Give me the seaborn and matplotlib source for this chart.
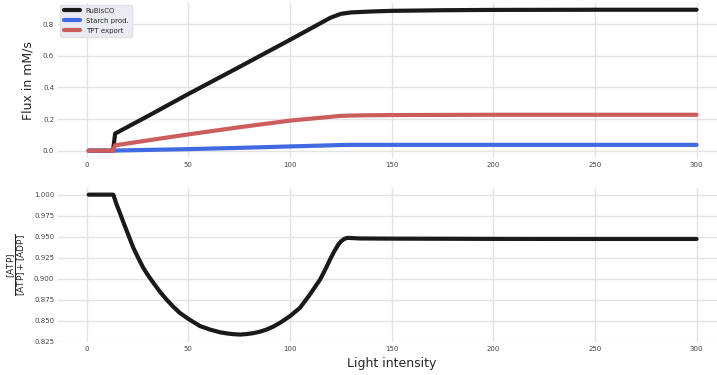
import numpy as np
import pandas as pd
import matplotlib
matplotlib.use("Agg")
import matplotlib.pyplot as plt
import seaborn as sns

# ---- data ----
flux_light = [1, 13, 14, 30, 50, 75, 100, 120, 125, 130, 140, 150, 175, 200, 250, 300]
rubisco = [0.0, 0.0, 0.108, 0.218, 0.358, 0.528, 0.700, 0.840, 0.864, 0.873, 0.879, 0.883, 0.887, 0.889, 0.890, 0.890]
starch = [0.0, 0.0, 0.001, 0.005, 0.010, 0.018, 0.027, 0.034, 0.036, 0.037, 0.037, 0.037, 0.037, 0.037, 0.037, 0.037]
tpt = [0.0, 0.0, 0.034, 0.065, 0.103, 0.148, 0.190, 0.214, 0.220, 0.222, 0.224, 0.225, 0.226, 0.227, 0.227, 0.227]

atp_light = [1, 13.1, 14.7, 16.4, 18.0, 19.7, 21.3, 22.9, 25.3, 27.8, 30.3, 32.8, 36.0, 39.3, 42.6, 45.9, 50,
             55.7, 60.6, 65.6, 68.9, 72.0, 75.4, 78.7, 82, 85.2, 88.5, 91.8, 95.1, 100, 104.9, 109.8, 114.8,
             117.3, 119.7, 121.8, 123.8, 125.0, 126.2, 127.4, 128.7, 134.4, 150, 200, 250, 300]
atp_ratio = [1.0, 1.0, 0.9885, 0.978, 0.9675, 0.957, 0.947, 0.937, 0.925, 0.913, 0.9035, 0.895, 0.8845, 0.875,
             0.8665, 0.859, 0.852, 0.8435, 0.8393, 0.8360, 0.8347, 0.8338, 0.8333, 0.8339, 0.8350, 0.8367,
             0.8393, 0.8428, 0.8473, 0.8552, 0.8651, 0.881, 0.8988, 0.9105, 0.9226, 0.9325, 0.9405, 0.9440,
             0.9464, 0.9480, 0.9485, 0.9478, 0.9476, 0.9473, 0.9472, 0.9472]

series_names = ["RuBisCO", "Starch prod.", "TPT export"]
series_colors = ["#1a1a1a", "#4169e1", "#cd5c5c"]

flux_df = pd.DataFrame({
    "Light intensity": flux_light * 3,
    "Flux": rubisco + starch + tpt,
    "Reaction": [n for n in series_names for _ in flux_light],
})
atp_df = pd.DataFrame({"Light intensity": atp_light, "ratio": atp_ratio})

sns.set_theme(style="whitegrid")
plt.rcParams["font.family"] = ["DejaVu Sans"]
plt.rcParams["grid.color"] = "#e3e3e3"

fig = plt.figure(figsize=(7.17, 3.75), dpi=100)
ax1 = fig.add_axes([0.0813, 0.5793, 0.9354, 0.4135])
ax2 = fig.add_axes([0.0813, 0.0888, 0.9354, 0.4107])

sns.lineplot(data=flux_df, x="Light intensity", y="Flux", hue="Reaction",
             palette=dict(zip(series_names, series_colors)), linewidth=3, ax=ax1)
sns.lineplot(data=atp_df, x="Light intensity", y="ratio", color="#1a1a1a", linewidth=3, ax=ax2)

for ax in (ax1, ax2):
    ax.set_xlim(-13.95, 315.95)
    for s in ax.spines.values():
        s.set_visible(False)
    ax.tick_params(axis="both", labelsize=5, colors="#444444", pad=3, length=0)
    ax.set_xticks([0, 50, 100, 150, 200, 250, 300])

ax1.set_ylim(-0.0445, 0.9345)
ax1.set_yticks([0.0, 0.2, 0.4, 0.6, 0.8])
ax1.set_xlabel("")
ax1.set_ylabel("Flux in mM/s", fontsize=9, color="#262626")
ax1.yaxis.set_label_coords(-0.035, 0.5)

ax2.set_ylim(0.8248, 1.0083)
ax2.set_yticks([0.825, 0.85, 0.875, 0.9, 0.925, 0.95, 0.975, 1.0])
ax2.set_yticklabels([f"{v:.3f}" for v in [0.825, 0.85, 0.875, 0.9, 0.925, 0.95, 0.975, 1.0]])
ax2.set_xlabel("Light intensity", fontsize=9, color="#262626")
ax2.xaxis.set_label_coords(0.4975, -0.10)
ax2.set_ylabel(r"$\dfrac{[\mathrm{ATP}]}{[\mathrm{ATP}]+[\mathrm{ADP}]}$", fontsize=6.5, color="#262626")
ax2.yaxis.set_label_coords(-0.045, 0.5)

leg = ax1.legend(loc="upper left", fontsize=5, frameon=True, handlelength=2.4,
                 borderaxespad=0.3, labelspacing=0.55, borderpad=0.45)
leg.get_frame().set_facecolor("#eaeaf2")
leg.get_frame().set_edgecolor("#e0e0e6")
leg.get_frame().set_alpha(1.0)
for line in leg.get_lines():
    line.set_linewidth(3)

fig.savefig("out.png", dpi=100)
